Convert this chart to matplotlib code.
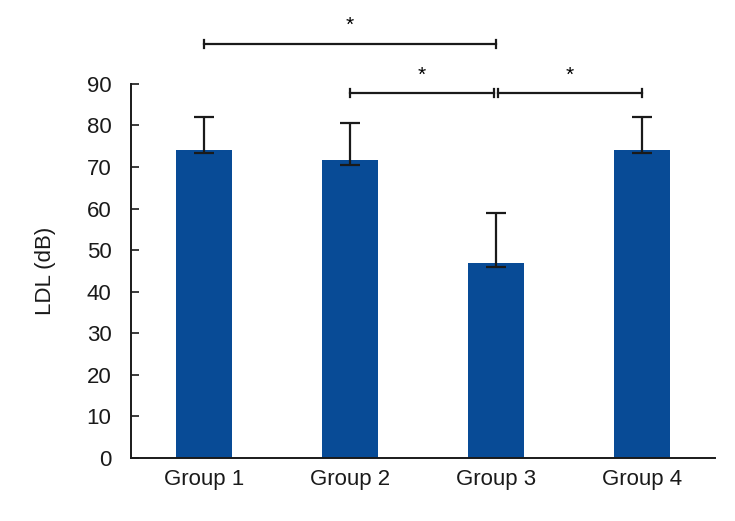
import matplotlib.pyplot as plt

# dados do grafico
grupos = ["Group 1", "Group 2", "Group 3", "Group 4"]
ldl = [74.1, 71.8, 46.8, 74.1]
erro_baixo = [0.8, 1.2, 0.8, 0.8]
erro_cima = [8.0, 8.8, 12.1, 8.0]

plt.rcParams['font.family'] = ['Liberation Sans', 'DejaVu Sans']

fig = plt.figure(figsize=(7.35, 5.21), dpi=100)
ax = fig.add_axes([0.178, 0.121, 0.795, 0.718])

x = list(range(len(grupos)))
ax.bar(x, ldl, width=0.38, color='#084B96', zorder=2)
ax.errorbar(x, ldl, yerr=[erro_baixo, erro_cima], fmt='none', ecolor='#1a1a1a',
            elinewidth=1.6, capsize=7, capthick=1.6, zorder=3)

ax.set_xlim(-0.5, 3.5)
ax.set_ylim(0, 90)
ax.set_yticks(range(0, 91, 10))
ax.set_xticks(x)
ax.set_xticklabels(grupos)
ax.set_ylabel("LDL (dB)", fontsize=16, labelpad=22, color='#1a1a1a')
ax.tick_params(axis='y', direction='in', length=6, width=1.2, labelsize=16, pad=14, colors='#1a1a1a')
ax.tick_params(axis='x', length=0, labelsize=16, pad=8, colors='#1a1a1a')
for lado in ['top', 'right']:
    ax.spines[lado].set_visible(False)
for lado in ['left', 'bottom']:
    ax.spines[lado].set_linewidth(1.4)
    ax.spines[lado].set_color('#1a1a1a')

# colchetes de significancia
def colchete(x1, x2, y, yt):
    ax.plot([x1, x2], [y, y], color='#1a1a1a', lw=1.6, clip_on=False)
    for xx in [x1, x2]:
        ax.plot([xx, xx], [y - 1.0, y + 1.0], color='#1a1a1a', lw=1.6, clip_on=False)
    ax.text((x1 + x2) / 2, yt, "*", ha='center', va='center', fontsize=15, clip_on=False)

colchete(0, 2, 99.6, 104.0)
colchete(1, 1.985, 87.8, 92.0)
colchete(2.015, 3, 87.8, 92.0)

fig.savefig("out.png", dpi=100)
